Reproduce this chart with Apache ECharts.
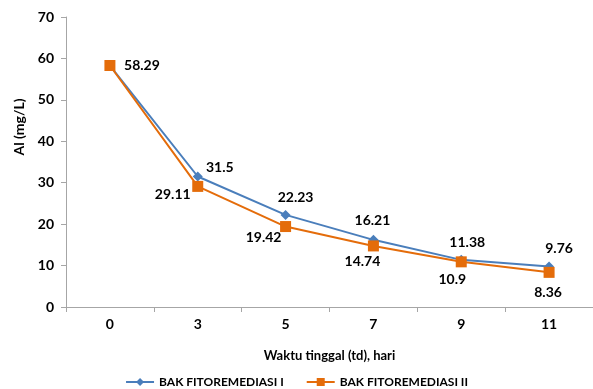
<!DOCTYPE html>
<html>
<head>
<meta charset="utf-8">
<script src="https://cdn.jsdelivr.net/npm/echarts@6/dist/echarts.min.js"></script>
<style>
  html, body { margin: 0; padding: 0; background: #fff; }
  #chart { width: 593px; height: 389px; }
</style>
</head>
<body>
<div id="chart"></div>
<script>
// Residence time (days) and aluminium concentration in each phytoremediation tank
const categories = ['0', '3', '5', '7', '9', '11'];
const bak1 = [58.29, 31.5, 22.23, 16.21, 11.38, 9.76];
const bak2 = [58.29, 29.11, 19.42, 14.74, 10.9, 8.36];
const yTicks = { min: 0, max: 70, interval: 10 };

const FONT = 'Lato';
const BLUE = '#4a7ebb';
const ORANGE = '#e46c0a';

// label offsets (relative to each point) so the two series' labels don't collide
const offsI = [null, [22, -9], [10, -17], [-1, -19], [6, -17], [10, -18]];
const offsII = [[32, 0], [-25, 8], [-22, 11], [-11, 16], [-9, 18], [-1, 20]];

function withLabels(values, offs) {
  return values.map((v, i) => {
    if (!offs[i]) return { value: v, label: { show: false } };
    return { value: v, label: { show: true, position: 'inside', offset: offs[i] } };
  });
}

const labelStyle = {
  show: true,
  color: '#000',
  fontFamily: FONT,
  fontWeight: 'bold',
  fontSize: 14
};

const chart = echarts.init(document.getElementById('chart'));
chart.setOption({
  animation: false,
  grid: { left: 66, right: 0, top: 17, bottom: 82, containLabel: false },
  xAxis: {
    type: 'category',
    data: categories,
    boundaryGap: true,
    name: 'Waktu tinggal (td), hari',
    nameLocation: 'middle',
    nameGap: 42,
    nameTextStyle: { color: '#000', fontFamily: FONT, fontWeight: 'bold', fontSize: 13 },
    axisLine: { lineStyle: { color: '#a6a6a6', width: 1 } },
    axisTick: { show: true, alignWithLabel: false, length: 5, lineStyle: { color: '#a6a6a6' } },
    axisLabel: { color: '#000', fontFamily: FONT, fontWeight: 'bold', fontSize: 14, margin: 10 },
    splitLine: { show: false }
  },
  yAxis: {
    type: 'value',
    min: yTicks.min,
    max: yTicks.max,
    interval: yTicks.interval,
    name: 'Al (mg/L)',
    nameLocation: 'middle',
    nameGap: 38,
    nameRotate: 90,
    nameTextStyle: { color: '#000', fontFamily: FONT, fontWeight: 'bold', fontSize: 14, padding: [0, 0, 0, 70] },
    axisLine: { show: true, lineStyle: { color: '#a6a6a6', width: 1 } },
    axisTick: { show: true, length: 5, lineStyle: { color: '#a6a6a6' } },
    axisLabel: { color: '#000', fontFamily: FONT, fontWeight: 'bold', fontSize: 14, margin: 12 },
    splitLine: { show: false }
  },
  legend: {
    top: 371,
    left: 'center',
    itemWidth: 28,
    itemHeight: 10,
    itemGap: 22,
    textStyle: { color: '#000', fontFamily: FONT, fontSize: 12, fontWeight: 'bold' },
    data: ['BAK FITOREMEDIASI I', 'BAK FITOREMEDIASI II']
  },
  series: [
    {
      name: 'BAK FITOREMEDIASI I',
      type: 'line',
      data: withLabels(bak1, offsI),
      symbol: 'diamond',
      symbolSize: 10,
      lineStyle: { color: BLUE, width: 2 },
      itemStyle: { color: BLUE },
      label: labelStyle,
      z: 3
    },
    {
      name: 'BAK FITOREMEDIASI II',
      type: 'line',
      data: withLabels(bak2, offsII),
      symbol: 'rect',
      symbolSize: 11,
      lineStyle: { color: ORANGE, width: 2 },
      itemStyle: { color: ORANGE },
      label: labelStyle,
      z: 4
    }
  ]
});
</script>
</body>
</html>
